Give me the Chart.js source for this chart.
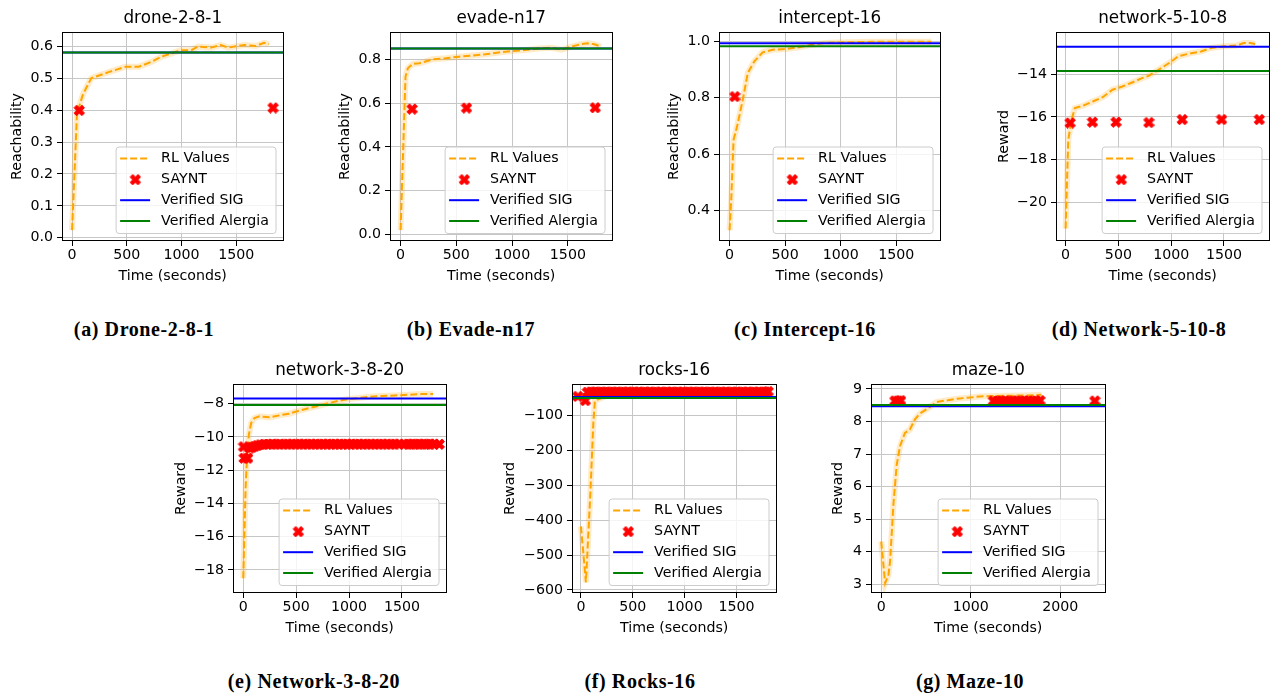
<!DOCTYPE html>
<html>
<head>
<meta charset="utf-8">
<script src="https://cdn.jsdelivr.net/npm/chart.js@4.4.1/dist/chart.umd.min.js"></script>
<style>
    body { margin: 0; background: #fff; width: 1276px; height: 696px; position: relative; overflow: hidden; }
    canvas.panel { position: absolute; }
    .cap { position: absolute; transform: translate(-50%, -50%); white-space: nowrap; letter-spacing: 0.6px;
           font: bold 20px "Liberation Serif", "DejaVu Serif", serif; color: #000; }
</style>
</head>
<body>
<script>
// ---------- drone-2-8-1 ----------
const droneTime = [0, 45, 100, 175, 340, 490, 610, 730, 820, 910, 990, 1090, 1150, 1270, 1360, 1425, 1575, 1680, 1755, 1800];
const droneRL = [0.024, 0.39, 0.45, 0.50, 0.52, 0.536, 0.536, 0.552, 0.568, 0.578, 0.588, 0.588, 0.599, 0.596, 0.604, 0.596, 0.604, 0.601, 0.611, 0.607];
const droneSayntTime = [63, 1834];
const droneSaynt = [0.40, 0.408];
const droneSig = 0.581;
const droneAlergia = 0.581;
const droneXTicks = [0, 500, 1000, 1500];
const droneYTicks = [0.0, 0.1, 0.2, 0.3, 0.4, 0.5, 0.6];

// ---------- evade-n17 ----------
const evadeTime = [0, 44, 65, 110, 169, 287, 405, 524, 642, 760, 879, 997, 1115, 1234, 1352, 1440, 1470, 1530, 1618, 1678, 1737, 1796];
const evadeRL = [0.02, 0.72, 0.759, 0.779, 0.782, 0.80, 0.805, 0.812, 0.817, 0.823, 0.831, 0.838, 0.842, 0.849, 0.853, 0.844, 0.848, 0.858, 0.869, 0.873, 0.869, 0.858];
const evadeSayntTime = [101, 589, 1743];
const evadeSaynt = [0.574, 0.579, 0.58];
const evadeSig = 0.849;
const evadeAlergia = 0.849;
const evadeXTicks = [0, 500, 1000, 1500];
const evadeYTicks = [0.0, 0.2, 0.4, 0.6, 0.8];

// ---------- intercept-16 ----------
const interTime = [0, 15, 36, 60, 74, 119, 164, 223, 298, 387, 506, 625, 744, 863, 982, 1280, 1577, 1815];
const interRL = [0.331, 0.438, 0.651, 0.687, 0.71, 0.793, 0.888, 0.929, 0.961, 0.970, 0.973, 0.979, 0.988, 0.994, 0.996, 0.998, 0.998, 0.998];
const interSayntTime = [45];
const interSaynt = [0.805];
const interSig = 0.993;
const interAlergia = 0.982;
const interXTicks = [0, 500, 1000, 1500];
const interYTicks = [0.4, 0.6, 0.8, 1.0];

// ---------- network-5-10-8 ----------
const net5Time = [0, 25, 56, 87, 165, 258, 351, 444, 537, 630, 724, 786, 879, 1003, 1065, 1189, 1283, 1376, 1500, 1624, 1686, 1748, 1795];
const net5RL = [-21.22, -17.08, -16.14, -15.59, -15.48, -15.28, -15.08, -14.73, -14.58, -14.39, -14.19, -14.08, -13.80, -13.41, -13.17, -13.02, -12.94, -12.78, -12.70, -12.66, -12.55, -12.55, -12.59];
const net5SayntTime = [40, 252, 475, 786, 1102, 1475, 1832];
const net5Saynt = [-16.27, -16.23, -16.23, -16.25, -16.11, -16.11, -16.11];
const net5Sig = -12.72;
const net5Alergia = -13.86;
const net5XTicks = [0, 500, 1000, 1500];
const net5YTicks = [-20, -18, -16, -14];

// ---------- network-3-8-20 ----------
const net3Time = [0, 22, 37, 53, 75, 106, 153, 247, 341, 434, 528, 622, 716, 809, 903, 997, 1091, 1184, 1309, 1434, 1559, 1684, 1794];
const net3RL = [-18.5, -13.06, -11.06, -9.86, -9.16, -8.86, -8.76, -8.82, -8.70, -8.60, -8.42, -8.26, -8.12, -7.96, -7.82, -7.72, -7.66, -7.58, -7.54, -7.50, -7.46, -7.42, -7.42];
const net3SayntTime = [0, 5, 40, 59, 80, 105, 130, 160, 195, 232, 270, 305, 342, 380, 417, 455, 492, 530,
    567, 605, 642, 680, 717, 755, 792, 830, 867, 905, 942, 980, 1017, 1055, 1092, 1130, 1167, 1205, 1242, 1280,
    1317, 1355, 1392, 1430, 1467, 1520, 1555, 1590, 1625, 1660, 1695, 1730, 1765, 1800, 1850];
const net3Saynt = [-10.57, -11.26, -11.26, -10.65, -10.60, -10.55, -10.50, -10.45, -10.42, -10.42, -10.41, -10.42, -10.41, -10.42, -10.41, -10.41, -10.42, -10.41,
    -10.41, -10.42, -10.41, -10.41, -10.42, -10.41, -10.41, -10.42, -10.41, -10.41, -10.42, -10.41, -10.41, -10.42, -10.41, -10.41, -10.42, -10.41, -10.41, -10.42,
    -10.41, -10.41, -10.42, -10.41, -10.41, -10.42, -10.41, -10.41, -10.42, -10.41, -10.41, -10.42, -10.41, -10.41, -10.42];
const net3Sig = -7.68;
const net3Alergia = -8.08;
const net3XTicks = [0, 500, 1000, 1500];
const net3YTicks = [-18, -16, -14, -12, -10, -8];

// ---------- rocks-16 ----------
const rocksTime = [0, 25, 48, 90, 120, 135, 250, 500, 750, 1000, 1250, 1500, 1800];
const rocksRL = [-418, -500, -578, -330, -120, -58, -44, -39, -37, -36, -35, -34, -34];
const rocksSayntTime = [-32, 41, 60, 95, 130, 165, 200, 235, 270, 305, 340, 375, 410, 445, 480, 515, 550, 585, 620, 655, 690, 725,
    760, 795, 830, 865, 900, 935, 970, 1005, 1040, 1075, 1110, 1145, 1180, 1215, 1250, 1285, 1320, 1355, 1390, 1425,
    1460, 1495, 1530, 1565, 1600, 1635, 1670, 1705, 1740, 1775, 1803];
const rocksSaynt = [-45, -57, -33, -32, -32, -33, -32, -32, -33, -32, -32, -33, -32, -32, -33, -32, -32, -33, -32, -32, -33, -32,
    -32, -33, -32, -32, -33, -32, -32, -33, -32, -32, -33, -32, -32, -33, -32, -32, -33, -32, -32, -33,
    -32, -32, -33, -32, -32, -33, -32, -32, -33, -32, -31];
const rocksSig = -47.4;
const rocksAlergia = -50.3;
const rocksXTicks = [0, 500, 1000, 1500];
const rocksYTicks = [-600, -500, -400, -300, -200, -100];

// ---------- maze-10 ----------
const mazeTime = [0, 44, 81, 99, 136, 173, 210, 265, 320, 375, 430, 520, 615, 760, 850, 1000, 1100, 1200, 1400, 1600, 1790];
const mazeRL = [4.31, 3.03, 3.29, 3.70, 5.44, 6.67, 7.24, 7.65, 7.75, 8.06, 8.24, 8.40, 8.60, 8.66, 8.70, 8.74, 8.77, 8.78, 8.79, 8.80, 8.82];
const mazeSayntTime = [150, 185, 215, 1250, 1293, 1336, 1380, 1423, 1466, 1510, 1553, 1596, 1640, 1683, 1726, 1770, 2383];
const mazeSaynt = [8.64, 8.64, 8.65, 8.64, 8.63, 8.64, 8.64, 8.63, 8.64, 8.64, 8.63, 8.64, 8.64, 8.63, 8.64, 8.65, 8.64];
const mazeSig = 8.47;
const mazeAlergia = 8.51;
const mazeXTicks = [0, 1000, 2000];
const mazeYTicks = [3, 4, 5, 6, 7, 8, 9];

const FONT = "'DejaVu Sans', sans-serif";
const GRID = "#c6c6c6";
const MINUS = "\u2212";
const TXT = 14.2;

const panels = [
    { title: "drone-2-8-1", yTitle: "Reachability", caption: "(a) Drone-2-8-1",
      time: droneTime, rl: droneRL, sTime: droneSayntTime, s: droneSaynt, sig: droneSig, alergia: droneAlergia,
      xTicks: droneXTicks, yTicks: droneYTicks, dec: 1, xMin: -92, xMax: 1932, yMin: -0.01, yMax: 0.645,
      plot: { l: 62, t: 32, r: 286, b: 241 }, yGap: 44.5, cap: [144, 329] },
    { title: "evade-n17", yTitle: "Reachability", caption: "(b) Evade-n17",
      time: evadeTime, rl: evadeRL, sTime: evadeSayntTime, s: evadeSaynt, sig: evadeSig, alergia: evadeAlergia,
      xTicks: evadeXTicks, yTicks: evadeYTicks, dec: 1, xMin: -95, xMax: 1900, yMin: -0.03, yMax: 0.925,
      plot: { l: 390, t: 32, r: 615, b: 241 }, yGap: 44.5, cap: [471, 329] },
    { title: "intercept-16", yTitle: "Reachability", caption: "(c) Intercept-16",
      time: interTime, rl: interRL, sTime: interSayntTime, s: interSaynt, sig: interSig, alergia: interAlergia,
      xTicks: interXTicks, yTicks: interYTicks, dec: 1, xMin: -95, xMax: 1898, yMin: 0.293, yMax: 1.033,
      plot: { l: 719, t: 32, r: 943, b: 241 }, yGap: 45, cap: [805, 329] },
    { title: "network-5-10-8", yTitle: "Reward", caption: "(d) Network-5-10-8",
      time: net5Time, rl: net5RL, sTime: net5SayntTime, s: net5Saynt, sig: net5Sig, alergia: net5Alergia,
      xTicks: net5XTicks, yTicks: net5YTicks, dec: 0, xMin: -91, xMax: 1931, yMin: -21.8, yMax: -12.03,
      plot: { l: 1056, t: 32, r: 1272, b: 241 }, yGap: 51.5, cap: [1139, 329] },
    { title: "network-3-8-20", yTitle: "Reward", caption: "(e) Network-3-8-20",
      time: net3Time, rl: net3RL, sTime: net3SayntTime, s: net3Saynt, sig: net3Sig, alergia: net3Alergia,
      xTicks: net3XTicks, yTicks: net3YTicks, dec: 0, xMin: -97, xMax: 1921, yMin: -19.39, yMax: -6.81,
      plot: { l: 233, t: 384, r: 449, b: 593 }, yGap: 52, cap: [314, 681] },
    { title: "rocks-16", yTitle: "Reward", caption: "(f) Rocks-16",
      time: rocksTime, rl: rocksRL, sTime: rocksSayntTime, s: rocksSaynt, sig: rocksSig, alergia: rocksAlergia,
      xTicks: rocksXTicks, yTicks: rocksYTicks, dec: 0, xMin: -86, xMax: 1886, yMin: -608.6, yMax: -10,
      plot: { l: 572, t: 384, r: 779, b: 593 }, yGap: 62, cap: [640, 681] },
    { title: "maze-10", yTitle: "Reward", caption: "(g) Maze-10",
      time: mazeTime, rl: mazeRL, sTime: mazeSayntTime, s: mazeSaynt, sig: mazeSig, alergia: mazeAlergia,
      xTicks: mazeXTicks, yTicks: mazeYTicks, dec: 0, xMin: -114, xMax: 2505, yMin: 2.73, yMax: 9.154,
      plot: { l: 871, t: 384, r: 1108, b: 593 }, yGap: 32.5, cap: [970, 681] },
];

// filled "X" marker like matplotlib's 'X'
function makeMarker(size) {
    const c = document.createElement("canvas");
    c.width = size + 2;
    c.height = size + 2;
    const g = c.getContext("2d");
    const v = [[0.25, 0], [0.5, 0.25], [0.75, 0], [1, 0.25], [0.75, 0.5], [1, 0.75],
               [0.75, 1], [0.5, 0.75], [0.25, 1], [0, 0.75], [0.25, 0.5], [0, 0.25]];
    g.beginPath();
    v.forEach(([px, py], i) => {
        const x = 1 + px * size, y = 1 + py * size;
        if (i === 0) g.moveTo(x, y); else g.lineTo(x, y);
    });
    g.closePath();
    g.fillStyle = "#ff0000";
    g.fill();
    g.strokeStyle = "#ff0000";
    g.lineWidth = 1;
    g.stroke();
    return c;
}
const marker = makeMarker(10.5);

function pairs(xs, ys) {
    return xs.map((x, i) => ({ x: x, y: ys[i] }));
}

function fmt(v, dec) {
    return Number(v).toFixed(dec).replace("-", MINUS);
}

const framePlugin = {
    id: "frame",
    afterDraw(chart) {
        const a = chart.chartArea, ctx = chart.ctx;
        ctx.save();
        ctx.strokeStyle = "#000";
        ctx.lineWidth = 1;
        ctx.strokeRect(Math.round(a.left) + 0.5, Math.round(a.top) + 0.5,
            Math.round(a.right - a.left) - 1, Math.round(a.bottom - a.top) - 1);
        ctx.restore();
    }
};

const legendPlugin = {
    id: "boxLegend",
    afterDatasetsDraw(chart) {
        const ctx = chart.ctx, area = chart.chartArea;
        const items = chart.data.datasets.filter(d => d.label);
        ctx.save();
        ctx.font = TXT + "px " + FONT;
        const textW = Math.max(...items.map(d => ctx.measureText(d.label).width));
        const w = 45 + textW + 7, h = 86.5;
        const x0 = area.right - 7.5 - w, y0 = area.bottom - 7.5 - h;
        ctx.beginPath();
        if (ctx.roundRect) ctx.roundRect(x0, y0, w, h, 3); else ctx.rect(x0, y0, w, h);
        ctx.fillStyle = "rgba(255,255,255,0.8)";
        ctx.fill();
        ctx.strokeStyle = "#cccccc";
        ctx.lineWidth = 1;
        ctx.stroke();
        items.forEach((d, i) => {
            const y = y0 + 11.6 + i * 20.8;
            if (d.showLine) {
                ctx.beginPath();
                ctx.setLineDash(d.borderDash || []);
                ctx.strokeStyle = d.borderColor;
                ctx.lineWidth = d.borderWidth;
                ctx.moveTo(x0 + 4, y);
                ctx.lineTo(x0 + 34, y);
                ctx.stroke();
                ctx.setLineDash([]);
            } else {
                ctx.drawImage(marker, x0 + 19 - marker.width / 2, y - marker.height / 2);
            }
            ctx.fillStyle = "#000";
            ctx.textBaseline = "middle";
            ctx.textAlign = "left";
            ctx.fillText(d.label, x0 + 45, y);
        });
        ctx.restore();
    }
};

function renderPanel(p) {
    const yw = Math.round(p.yGap + 10);
    const canvas = document.createElement("canvas");
    canvas.className = "panel";
    const w = yw + (p.plot.r - p.plot.l) + 4;
    const h = 32 + (p.plot.b - p.plot.t) + 45;
    canvas.width = w;
    canvas.height = h;
    canvas.style.width = w + "px";
    canvas.style.height = h + "px";
    canvas.style.left = (p.plot.l - yw) + "px";
    canvas.style.top = (p.plot.t - 32) + "px";
    document.body.appendChild(canvas);

    const cap = document.createElement("div");
    cap.className = "cap";
    cap.textContent = p.caption;
    cap.style.left = p.cap[0] + "px";
    cap.style.top = p.cap[1] + "px";
    document.body.appendChild(cap);

    const hline = v => [{ x: p.xMin, y: v }, { x: p.xMax, y: v }];
    const rlData = pairs(p.time, p.rl);

    new Chart(canvas.getContext("2d"), {
        type: "scatter",
        data: {
            datasets: [
                {
                    data: rlData, showLine: true, pointRadius: 0,
                    borderColor: "rgba(255,165,0,0.22)", borderWidth: 6, order: 4,
                },
                {
                    label: "RL Values", data: rlData, showLine: true, pointRadius: 0,
                    borderColor: "#ffa500", borderWidth: 2, borderDash: [7, 3], order: 3,
                },
                {
                    label: "SAYNT", data: pairs(p.sTime, p.s), showLine: false,
                    pointStyle: marker, pointRadius: 5.5, order: 2,
                },
                {
                    label: "Verified SIG", data: hline(p.sig), showLine: true, pointRadius: 0,
                    borderColor: "#0000ff", borderWidth: 2, order: 1,
                },
                {
                    label: "Verified Alergia", data: hline(p.alergia), showLine: true, pointRadius: 0,
                    borderColor: "#008000", borderWidth: 2, order: 0,
                },
            ],
        },
        options: {
            responsive: false,
            animation: false,
            events: [],
            layout: { padding: { left: 0, top: 0, right: 4, bottom: 0 } },
            plugins: {
                legend: { display: false },
                tooltip: { enabled: false },
                title: {
                    display: true, text: p.title, color: "#000", fullSize: false,
                    font: { family: FONT, size: 16.8, weight: "normal" },
                    padding: { top: 8.4, bottom: 3.4 },
                },
            },
            scales: {
                x: {
                    type: "linear", position: "bottom", min: p.xMin, max: p.xMax,
                    afterBuildTicks: s => { s.ticks = p.xTicks.map(v => ({ value: v })); },
                    afterFit: s => { s.height = 45; },
                    border: { display: false },
                    grid: { color: GRID, lineWidth: 1, tickColor: "#000", tickLength: 5, tickWidth: 1 },
                    ticks: {
                        color: "#000", font: { family: FONT, size: TXT }, padding: 1,
                        maxRotation: 0, autoSkip: false,
                        callback: v => fmt(v, 0),
                    },
                    title: {
                        display: true, text: "Time (seconds)", color: "#000",
                        font: { family: FONT, size: TXT }, padding: { top: 0, bottom: 1.5 },
                    },
                },
                y: {
                    type: "linear", position: "left", min: p.yMin, max: p.yMax,
                    afterBuildTicks: s => { s.ticks = p.yTicks.map(v => ({ value: v })); },
                    afterFit: s => { s.width = yw; },
                    border: { display: false },
                    grid: { color: GRID, lineWidth: 1, tickColor: "#000", tickLength: 5, tickWidth: 1 },
                    ticks: {
                        color: "#000", font: { family: FONT, size: TXT }, padding: 4,
                        autoSkip: false,
                        callback: v => fmt(v, p.dec),
                    },
                    title: {
                        display: true, text: p.yTitle, color: "#000",
                        font: { family: FONT, size: TXT }, padding: { top: 1.5, bottom: 0 },
                    },
                },
            },
        },
        plugins: [legendPlugin, framePlugin],
    });
}

panels.forEach(renderPanel);
</script>
</body>
</html>
